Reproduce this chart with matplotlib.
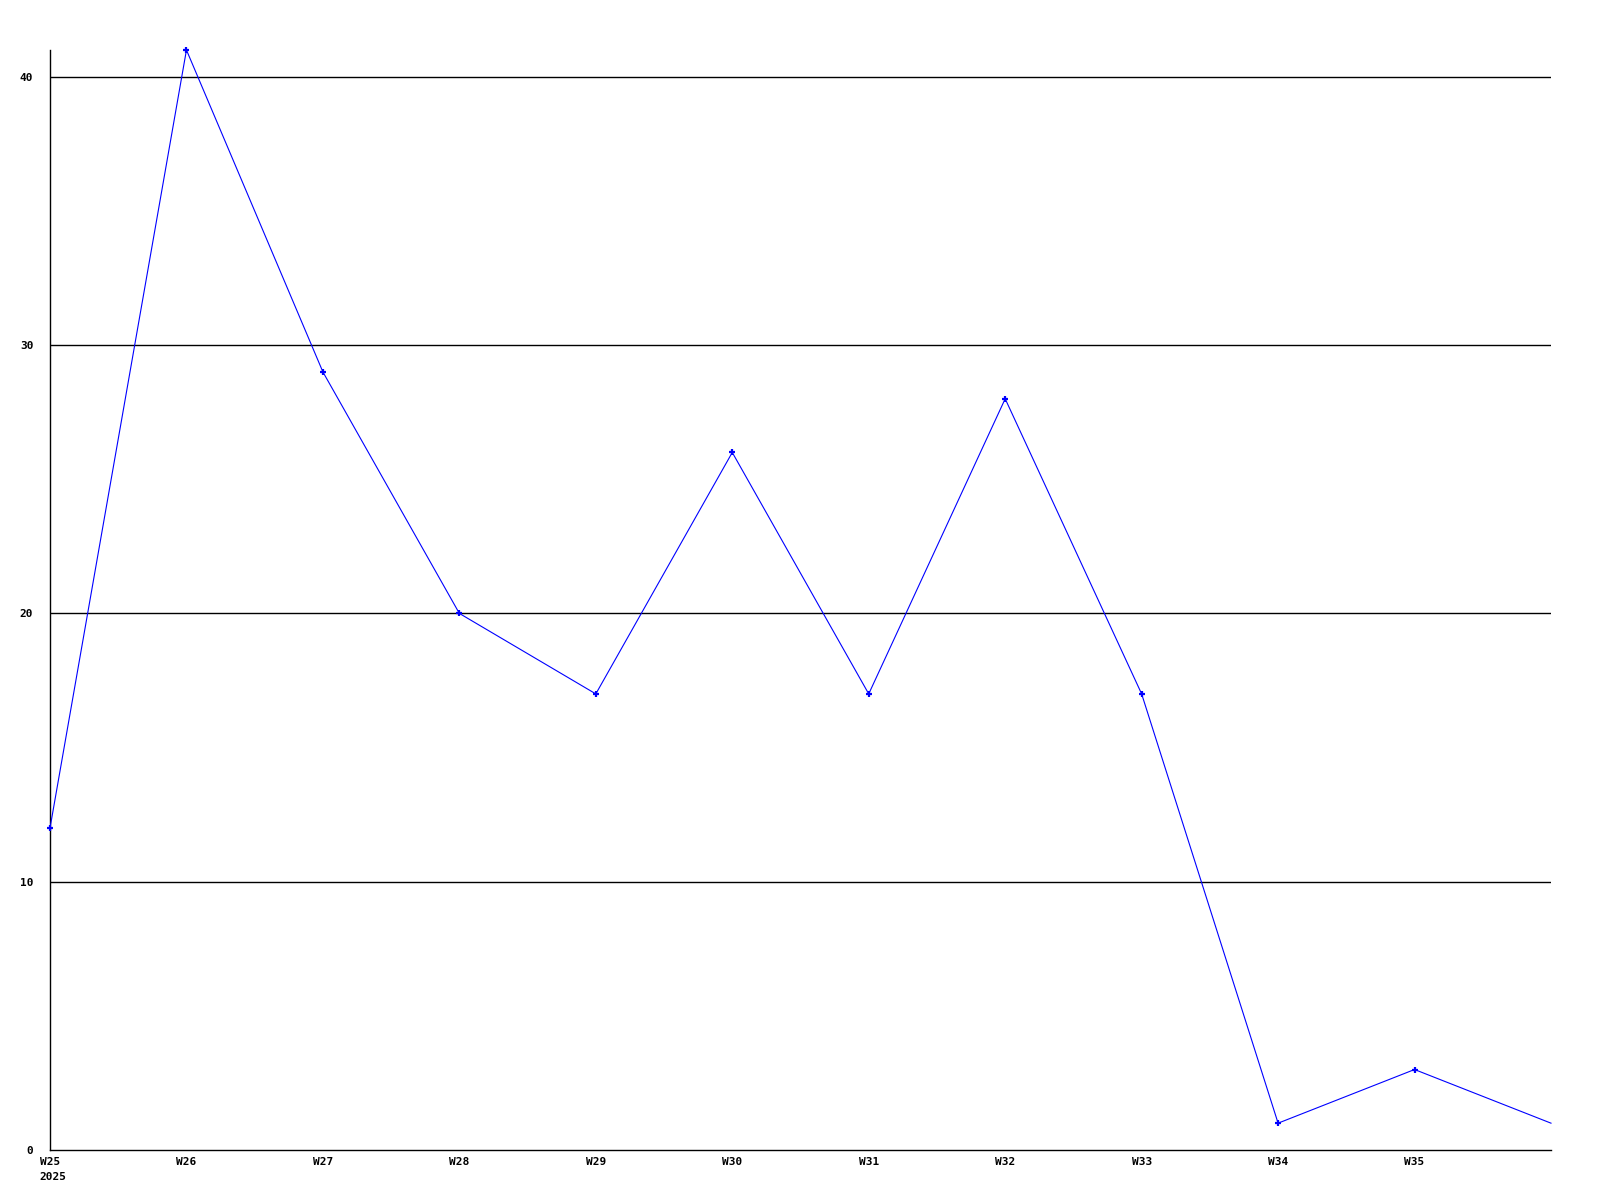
import matplotlib
matplotlib.use("Agg")
import matplotlib.pyplot as plt

weeks = ["W25", "W26", "W27", "W28", "W29", "W30", "W31", "W32", "W33", "W34", "W35", "W36"]
values = [12, 41, 29, 20, 17, 26, 17, 28, 17, 1, 3, 1]
tick_labels = ["W25", "W26", "W27", "W28", "W29", "W30", "W31", "W32", "W33", "W34", "W35"]
year_label = "2025"
y_ticks = [0, 10, 20, 30, 40]

W, H = 1600, 1200
fig = plt.figure(figsize=(16, 12), dpi=100)
left, right, top, bottom = 50, 1551, 50, 1150
ax = fig.add_axes([left / W, 1 - bottom / H, (right - left) / W, (bottom - top) / H])

x = list(range(len(values)))
ax.plot(x, values, color="#0000ff", lw=0.8, marker="+", ms=5, mew=1.6,
        markevery=list(range(len(values) - 1)), clip_on=False, zorder=3)

ax.set_xlim(0, len(values) - 1)
ax.set_ylim(0, 41)
for yv in y_ticks[1:]:
    ax.axhline(yv, color="black", lw=1.0, zorder=1)

for s in ["top", "right"]:
    ax.spines[s].set_visible(False)
ax.spines["left"].set_linewidth(1.0)
ax.spines["bottom"].set_linewidth(1.0)

font = dict(family="DejaVu Sans Mono", weight="bold", size=8)
ax.set_yticks(y_ticks)
ax.set_yticklabels([str(v) for v in y_ticks], **font)
ax.set_xticks(range(len(tick_labels)))
ax.set_xticklabels(tick_labels, **font)
ax.tick_params(axis="both", length=0)
ax.tick_params(axis="y", pad=12)
ax.tick_params(axis="x", pad=5)

fig.text(39 / W, 1 - 1177 / H, year_label, ha="left", va="center", **font)

fig.savefig("out.png", dpi=100, facecolor="white")
